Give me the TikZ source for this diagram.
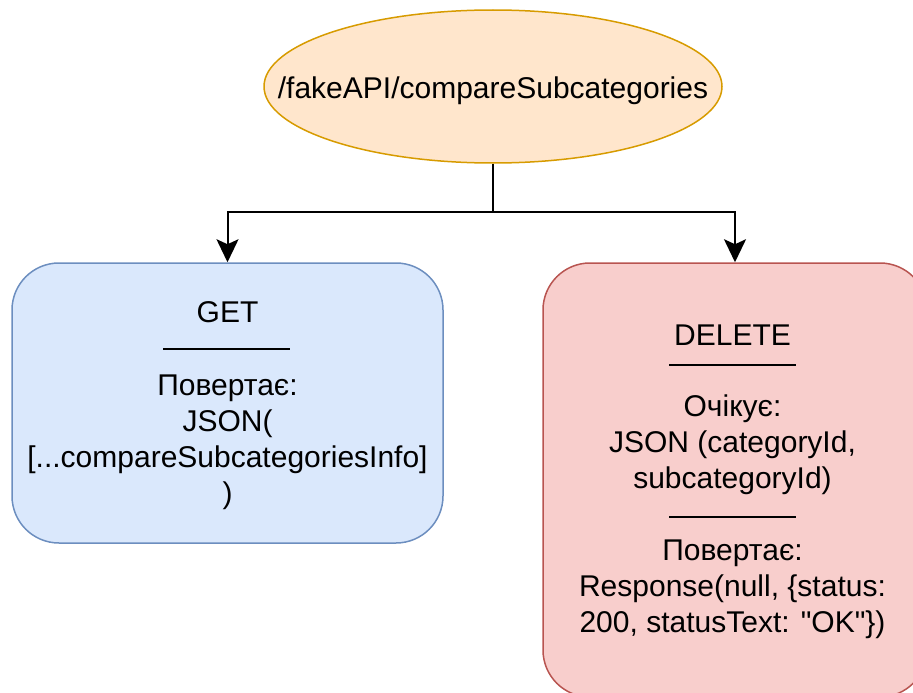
\documentclass[tikz,border=0pt]{standalone}
\usepackage{fontspec}
\setmainfont{Liberation Sans}[Ligatures=TeXOff]
\usetikzlibrary{shapes.geometric,arrows.meta}
\definecolor{apiFill}{HTML}{FFE6CC}
\definecolor{apiStroke}{HTML}{D79B00}
\definecolor{getFill}{HTML}{DAE8FC}
\definecolor{getStroke}{HTML}{6C8EBF}
\definecolor{delFill}{HTML}{F8CECC}
\definecolor{delStroke}{HTML}{B85450}
\begin{document}
\begin{tikzpicture}[x=1pt,y=-1pt,
  txt/.style={font=\fontsize{30}{36}\selectfont, align=center, inner sep=0pt, text=black},
  methodbox/.style={rectangle, rounded corners=47pt, line width=1.5pt, inner sep=0pt},
  rule/.style={line width=2pt},
  conn/.style={line width=2pt, -{Stealth[width=22pt,length=23pt,inset=5pt]}},
  ]
\useasboundingbox (0,0) rectangle (913,693);

% endpoint
\node[ellipse, draw=apiStroke, fill=apiFill, line width=1.5pt, inner sep=0pt,
      minimum width=458pt, minimum height=153pt] (api) at (493,86.5) {};
\node[txt] (apitext) at (493,91) {/fakeAPI/compareSubcategories};

% methods
\node[methodbox, draw=getStroke, fill=getFill, minimum width=431pt, minimum height=280pt] (get) at (227.5,403) {};
\node[methodbox, draw=delStroke, fill=delFill, minimum width=384pt, minimum height=434pt] (del) at (735,480) {};

% connectors
\coordinate (split) at (493,212);
\draw[conn] (api.south) -- (split) -| (get.north);
\draw[conn] (split) -| (del.north);

% GET contents
\node[txt] (gettitle) at (227.5,312) {GET};
\draw[rule] (163,349) -- (290,349);
\node[txt] (getret) at (227.5,442) {Повертає:\\JSON(\\{}[...compareSubcategoriesInfo]\\)};

% DELETE contents
\node[txt] (deltitle) at (732.5,335) {DELETE};
\draw[rule] (669,365) -- (796,365);
\node[txt] (delin) at (732.5,444.5) {Очікує:\\JSON (categoryId,\\subcategoryId)};
\draw[rule] (669,517) -- (796,517);
\node[txt] (delret) at (732.5,589) {Повертає:\\Response(null, \{status:\\200, statusText: "OK"\})};
\end{tikzpicture}
\end{document}
